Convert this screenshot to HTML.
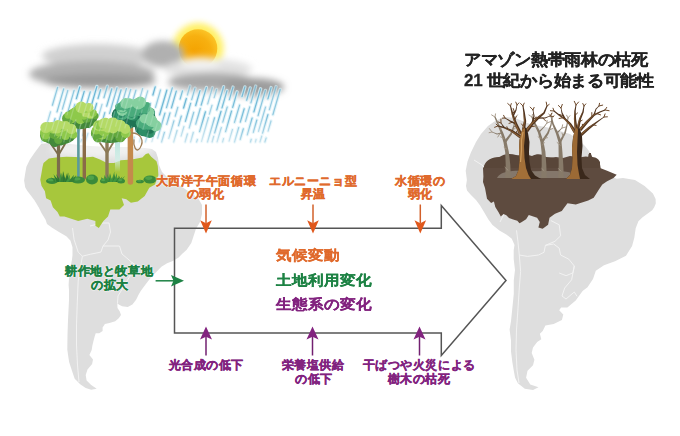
<!DOCTYPE html>
<html><head><meta charset="utf-8">
<style>
html,body{margin:0;padding:0;background:#fff;}
body{width:680px;height:436px;position:relative;overflow:hidden;font-family:"Liberation Sans",sans-serif;}
svg{position:absolute;left:0;top:0;}
.t{position:absolute;font-weight:bold;white-space:nowrap;text-align:center;-webkit-text-stroke:0.35px currentColor;}
.lab{text-shadow:0 0 1.5px #fff,0 0 1.5px #fff,0 0 2.5px #fff;}
.o{color:#e06a2c;}
.g{color:#1d8244;}
.p{color:#82237f;}
.lab{font-size:12.3px;line-height:13px;letter-spacing:0.55px;}
.mid{font-size:15.8px;line-height:17px;text-align:left;-webkit-text-stroke:0.25px currentColor;transform:scaleY(0.9);transform-origin:0 0;}
.title{font-size:17px;letter-spacing:-0.3px;transform:scaleY(0.93);transform-origin:0 0;line-height:18px;color:#232323;text-align:left;-webkit-text-stroke:0.3px currentColor;}
</style></head><body>
<svg width="680" height="436" viewBox="0 0 680 436">
<defs>
<filter id="b5" x="-50%" y="-50%" width="200%" height="200%"><feGaussianBlur stdDeviation="5"/></filter>
<filter id="b35" x="-50%" y="-50%" width="200%" height="200%"><feGaussianBlur stdDeviation="3.5"/></filter>
<filter id="b3" x="-50%" y="-50%" width="200%" height="200%"><feGaussianBlur stdDeviation="3"/></filter>
<filter id="b2" x="-50%" y="-50%" width="200%" height="200%"><feGaussianBlur stdDeviation="2"/></filter>
<filter id="b1" x="-50%" y="-50%" width="200%" height="200%"><feGaussianBlur stdDeviation="0.5"/></filter>
<radialGradient id="sun" cx="0.42" cy="0.6" r="0.65"><stop offset="0" stop-color="#f4a200"/><stop offset="0.65" stop-color="#f7b010"/><stop offset="1" stop-color="#fcc62a"/></radialGradient>
<linearGradient id="cl" x1="0" y1="0" x2="0" y2="1"><stop offset="0" stop-color="#ececec"/><stop offset="0.45" stop-color="#cdcdcd"/><stop offset="1" stop-color="#959595"/></linearGradient>
<linearGradient id="cr" x1="0" y1="0" x2="0" y2="1"><stop offset="0" stop-color="#f4f4f4"/><stop offset="0.4" stop-color="#d8d8d8"/><stop offset="1" stop-color="#9a9a9a"/></linearGradient>
<linearGradient id="lg" x1="0" y1="0" x2="0" y2="1"><stop offset="0" stop-color="#a8d65a"/><stop offset="0.55" stop-color="#7fbf45"/><stop offset="1" stop-color="#4e9a38"/></linearGradient>
<linearGradient id="tg" x1="0" y1="0" x2="0" y2="1"><stop offset="0" stop-color="#6cc08c"/><stop offset="0.5" stop-color="#3da274"/><stop offset="1" stop-color="#237f5c"/></linearGradient>
<linearGradient id="trA" x1="0" y1="0" x2="1" y2="0"><stop offset="0" stop-color="#c48a44"/><stop offset="0.5" stop-color="#a06a32"/><stop offset="0.75" stop-color="#3e2a1a"/><stop offset="1" stop-color="#2e2016"/></linearGradient>
<linearGradient id="rmg" x1="0" y1="0" x2="0" y2="1"><stop offset="0" stop-color="#fff"/><stop offset="0.55" stop-color="#fff"/><stop offset="1" stop-color="#777"/></linearGradient>
<mask id="rm" maskUnits="userSpaceOnUse" x="0" y="80" width="300" height="70"><rect x="0" y="84" width="300" height="60" fill="url(#rmg)"/></mask>
<linearGradient id="tcol" gradientUnits="userSpaceOnUse" x1="0" y1="140" x2="0" y2="172"><stop offset="0" stop-color="#b8e4dc"/><stop offset="0.6" stop-color="#cfeee6" stop-opacity="0.8"/><stop offset="1" stop-color="#e0f4ee" stop-opacity="0"/></linearGradient>
</defs>
<!-- maps -->
<path d="M41.3,143.8 L50.0,143.0 L70.0,144.0 L90.0,146.0 L110.0,147.0 L130.0,147.0 L145.0,148.0 L152.0,149.0 L156.0,152.0 L158.0,158.0 L159.0,165.0 L162.0,172.0 L170.0,180.0 L182.0,187.0 L191.0,193.0 L198.0,198.0 L202.0,205.0 L202.0,214.0 L200.0,222.0 L195.9,229.0 L193.6,236.0 L191.3,243.0 L186.7,249.7 L182.0,254.0 L178.6,257.6 L172.8,261.0 L167.1,263.3 L161.4,266.8 L156.8,271.4 L152.2,276.0 L147.6,281.7 L144.2,286.3 L140.7,290.9 L138.4,295.0 L137.0,298.0 L135.9,300.0 L132.4,304.6 L127.8,306.9 L122.1,306.3 L118.7,304.6 L117.3,303.0 L117.5,308.0 L119.8,311.5 L121.0,314.9 L118.7,318.3 L115.2,321.2 L109.5,322.9 L104.9,324.1 L102.6,327.5 L102.6,331.0 L99.2,333.3 L95.7,333.3 L94.6,336.7 L93.4,341.3 L92.3,345.9 L91.7,350.0 L89.4,354.9 L93.0,359.4 L92.1,364.0 L87.5,369.5 L85.7,375.0 L86.6,380.6 L91.2,385.1 L96.7,388.8 L91.2,389.7 L85.7,387.9 L80.2,384.2 L76.5,380.6 L74.7,378.7 L72.8,373.2 L71.0,367.7 L69.2,362.2 L68.3,356.7 L67.3,349.4 L67.5,334.7 L68.0,320.0 L69.0,300.0 L69.0,290.0 L68.6,285.0 L69.3,273.2 L70.7,266.3 L72.0,259.4 L72.5,255.0 L72.5,247.3 L70.4,240.4 L66.3,236.3 L59.4,232.2 L52.5,228.0 L47.0,223.9 L45.6,219.8 L41.5,212.9 L38.8,207.4 L34.6,200.5 L30.5,195.0 L27.0,190.5 L25.2,187.3 L24.1,180.5 L25.2,173.6 L26.4,166.7 L29.8,159.8 L34.4,152.9 Z" fill="#dedede"/>
<path d="M503.6,116.8 L515.0,118.0 L530.0,124.0 L550.0,128.0 L570.0,134.0 L580.0,141.0 L585.0,146.0 L589.0,151.0 L593.0,158.0 L600.0,168.0 L610.0,176.0 L616.7,178.7 L623.0,178.0 L635.0,180.0 L644.6,186.0 L652.9,193.6 L655.6,199.1 L655.8,203.4 L654.2,207.3 L652.2,210.3 L642.6,217.2 L638.4,221.3 L635.7,228.2 L634.3,237.8 L632.1,246.0 L626.0,255.7 L615.0,261.2 L604.0,265.3 L595.8,270.8 L593.0,279.0 L587.5,287.3 L582.6,291.0 L575.7,300.6 L567.4,307.5 L561.1,307.5 L559.2,310.3 L563.3,314.4 L561.9,319.9 L553.7,324.0 L545.4,325.4 L542.7,330.9 L539.9,333.7 L541.3,339.2 L537.2,341.9 L533.0,347.4 L531.7,352.9 L534.4,359.8 L533.0,365.3 L527.5,370.8 L526.1,377.7 L530.3,384.6 L538.5,387.3 L533.0,390.1 L524.8,388.7 L517.9,383.2 L515.1,377.7 L513.8,370.8 L512.4,362.6 L511.0,351.6 L511.0,340.6 L509.6,329.5 L511.0,321.3 L512.4,307.5 L513.8,293.8 L513.8,280.0 L515.0,270.0 L513.7,259.0 L513.7,250.0 L514.5,245.0 L511.8,238.7 L506.3,234.5 L499.4,230.4 L492.5,224.9 L488.4,219.4 L484.3,212.5 L480.1,205.6 L476.0,200.1 L470.5,194.6 L467.0,190.5 L466.0,186.0 L466.9,179.9 L465.7,170.7 L467.5,161.5 L471.0,152.3 L476.0,142.0 L481.0,134.0 L488.0,126.0 L494.4,121.5 Z" fill="#dedede"/>
<g fill="none" stroke="#f4f4f4" stroke-width="0.9" stroke-linejoin="round">
<path d="M72.5,228 L74.1,239.7 L78.2,252.1 L82.4,256.2 L80.3,268.6 L78.2,281 L77.2,305 L76.5,325 L76.5,345 L77.5,365 L79,382"/>
<path d="M82.4,256.2 L90.6,254.2 L100.9,252.1 L103,246 L119.5,246 L122,254 L131.9,262.4 L140,268"/>
<path d="M103,246 L108,240 L110.5,232 L109,223"/>
<path d="M90,226 L102,223 L109,223"/>
<path d="M131.9,262.4 L130,276 L124,286 L118,296 L117.5,303"/>
<path d="M516.5,230.3 L517.9,241.3 L519.3,255 L520.6,271.6 L519.3,288 L517.9,310 L516.5,330 L516,350 L517,370 L519,383"/>
<path d="M519.3,255 L527.5,256.4 L538.5,255 L544,252.3 L545.4,245.4 L553.7,244 L559.2,248.2 L560.6,255 L568.8,259.2 L574.3,266 L572.9,272.9 L566.1,275.7 L559.2,273"/>
<path d="M545.4,245.4 L555,241.3 L560.6,235.8 L559.2,224.8 L550.9,220.6"/>
<path d="M574.3,266 L571.6,279.8 L564.7,288 L562,296 L566,299 L574.3,292 L577,296.3"/>
<path d="M500,222 L505,212 L504,200 L498,190 L492,182"/>
<path d="M474,160 L482,165 L488,172"/>
</g>
<!-- sun -->
<circle cx="198" cy="48.5" r="25.5" fill="#ffee55" filter="url(#b3)" opacity="0.9"/>
<circle cx="198" cy="48.5" r="19.3" fill="url(#sun)"/>
<!-- clouds -->
<g filter="url(#b35)">
<ellipse cx="98" cy="56" rx="56" ry="12" fill="#d0d0d0"/>
<ellipse cx="92" cy="74" rx="63" ry="13" fill="#b0b0b0"/>
<ellipse cx="100" cy="81" rx="56" ry="7" fill="#999999"/>
<ellipse cx="163" cy="54" rx="21" ry="13" fill="#b0b0b0"/>
<ellipse cx="208" cy="69" rx="44" ry="10" fill="#e2e2e2"/>
<ellipse cx="212" cy="82" rx="44" ry="9" fill="#a8a8a8"/>
<ellipse cx="252" cy="87" rx="32" ry="9" fill="#9c9c9c"/>
<ellipse cx="200" cy="63" rx="20" ry="6" fill="#f4f4f4" opacity="0.85"/>
</g>
<!-- rain -->
<g mask="url(#rm)">
<g stroke="#d4eef6" stroke-width="3.4" stroke-linecap="round">
<line x1="57.6" y1="87.4" x2="52.4" y2="105.2" stroke-opacity="0.62"/>
<line x1="50.5" y1="111.8" x2="44.9" y2="131.1" stroke-opacity="0.48"/>
<line x1="44.0" y1="134.2" x2="41.8" y2="142.0" stroke-opacity="0.57"/>
<line x1="63.7" y1="88.8" x2="57.0" y2="111.9" stroke-opacity="0.66"/>
<line x1="55.0" y1="118.7" x2="51.9" y2="129.4" stroke-opacity="0.74"/>
<line x1="49.5" y1="137.6" x2="48.3" y2="142.0" stroke-opacity="0.78"/>
<line x1="67.8" y1="90.5" x2="62.4" y2="109.2" stroke-opacity="0.59"/>
<line x1="61.5" y1="112.4" x2="54.6" y2="136.0" stroke-opacity="0.66"/>
<line x1="74.1" y1="90.3" x2="67.0" y2="114.9" stroke-opacity="0.63"/>
<line x1="64.7" y1="122.7" x2="60.1" y2="138.7" stroke-opacity="0.87"/>
<line x1="79.8" y1="86.8" x2="76.4" y2="98.7" stroke-opacity="0.88"/>
<line x1="74.8" y1="104.3" x2="69.2" y2="123.6" stroke-opacity="0.59"/>
<line x1="67.4" y1="129.7" x2="63.8" y2="142.0" stroke-opacity="0.61"/>
<line x1="84.2" y1="91.4" x2="78.3" y2="111.7" stroke-opacity="0.87"/>
<line x1="75.9" y1="119.8" x2="69.5" y2="142.0" stroke-opacity="0.75"/>
<line x1="90.3" y1="91.8" x2="83.2" y2="116.1" stroke-opacity="0.71"/>
<line x1="81.1" y1="123.4" x2="77.7" y2="135.2" stroke-opacity="0.82"/>
<line x1="96.9" y1="86.4" x2="90.1" y2="109.8" stroke-opacity="0.90"/>
<line x1="89.1" y1="113.3" x2="82.6" y2="135.7" stroke-opacity="0.63"/>
<line x1="81.5" y1="139.6" x2="80.8" y2="142.0" stroke-opacity="0.80"/>
<line x1="100.6" y1="89.7" x2="98.0" y2="98.5" stroke-opacity="0.77"/>
<line x1="96.6" y1="103.5" x2="89.6" y2="127.3" stroke-opacity="0.89"/>
<line x1="87.9" y1="133.4" x2="85.4" y2="142.0" stroke-opacity="0.59"/>
<line x1="107.3" y1="86.2" x2="103.9" y2="97.7" stroke-opacity="0.63"/>
<line x1="102.0" y1="104.4" x2="98.8" y2="115.2" stroke-opacity="0.47"/>
<line x1="96.5" y1="123.4" x2="92.5" y2="137.1" stroke-opacity="0.88"/>
<line x1="111.8" y1="88.8" x2="106.7" y2="106.1" stroke-opacity="0.74"/>
<line x1="104.8" y1="112.7" x2="99.6" y2="130.8" stroke-opacity="0.73"/>
<line x1="97.1" y1="139.4" x2="96.3" y2="142.0" stroke-opacity="0.64"/>
<line x1="117.0" y1="87.8" x2="109.6" y2="113.4" stroke-opacity="0.68"/>
<line x1="107.8" y1="119.7" x2="105.4" y2="127.9" stroke-opacity="0.64"/>
<line x1="103.5" y1="134.4" x2="101.3" y2="142.0" stroke-opacity="0.73"/>
<line x1="121.1" y1="89.8" x2="116.3" y2="106.2" stroke-opacity="0.76"/>
<line x1="114.8" y1="111.3" x2="108.8" y2="132.0" stroke-opacity="0.78"/>
<line x1="107.9" y1="135.1" x2="105.9" y2="142.0" stroke-opacity="0.75"/>
<line x1="126.4" y1="88.7" x2="121.0" y2="107.4" stroke-opacity="0.59"/>
<line x1="119.5" y1="112.6" x2="115.5" y2="126.2" stroke-opacity="0.62"/>
<line x1="113.6" y1="132.8" x2="110.9" y2="142.0" stroke-opacity="0.62"/>
<line x1="130.7" y1="89.4" x2="124.6" y2="110.6" stroke-opacity="0.59"/>
<line x1="123.3" y1="115.0" x2="116.8" y2="137.5" stroke-opacity="0.56"/>
<line x1="135.9" y1="90.2" x2="133.0" y2="100.0" stroke-opacity="0.59"/>
<line x1="131.6" y1="105.0" x2="124.9" y2="128.0" stroke-opacity="0.65"/>
<line x1="122.6" y1="136.2" x2="120.9" y2="142.0" stroke-opacity="0.60"/>
<line x1="142.6" y1="88.7" x2="139.1" y2="100.8" stroke-opacity="0.50"/>
<line x1="137.3" y1="106.9" x2="134.0" y2="118.4" stroke-opacity="0.81"/>
<line x1="131.7" y1="126.4" x2="128.4" y2="137.7" stroke-opacity="0.58"/>
<line x1="147.7" y1="90.8" x2="143.6" y2="105.1" stroke-opacity="0.51"/>
<line x1="142.2" y1="109.8" x2="135.8" y2="132.1" stroke-opacity="0.57"/>
<line x1="134.3" y1="137.2" x2="132.9" y2="142.0" stroke-opacity="0.64"/>
<line x1="155.2" y1="86.9" x2="152.9" y2="95.0" stroke-opacity="0.87"/>
<line x1="150.5" y1="103.3" x2="143.0" y2="129.1" stroke-opacity="0.65"/>
<line x1="140.5" y1="137.8" x2="139.3" y2="142.0" stroke-opacity="0.55"/>
<line x1="160.5" y1="90.0" x2="155.5" y2="107.3" stroke-opacity="0.58"/>
<line x1="154.0" y1="112.4" x2="150.5" y2="124.5" stroke-opacity="0.48"/>
<line x1="148.6" y1="131.0" x2="145.4" y2="142.0" stroke-opacity="0.81"/>
<line x1="166.8" y1="90.2" x2="159.6" y2="114.8" stroke-opacity="0.85"/>
<line x1="157.2" y1="123.2" x2="151.9" y2="141.6" stroke-opacity="0.46"/>
<line x1="172.3" y1="87.8" x2="166.5" y2="107.7" stroke-opacity="0.69"/>
<line x1="164.9" y1="113.2" x2="157.7" y2="138.1" stroke-opacity="0.73"/>
<line x1="176.3" y1="91.2" x2="171.5" y2="107.8" stroke-opacity="0.80"/>
<line x1="170.0" y1="112.9" x2="166.7" y2="124.4" stroke-opacity="0.69"/>
<line x1="164.4" y1="132.3" x2="161.6" y2="142.0" stroke-opacity="0.81"/>
<line x1="182.5" y1="90.9" x2="180.1" y2="99.1" stroke-opacity="0.73"/>
<line x1="177.8" y1="107.3" x2="175.2" y2="116.2" stroke-opacity="0.57"/>
<line x1="173.9" y1="120.8" x2="168.8" y2="138.3" stroke-opacity="0.64"/>
<line x1="190.0" y1="86.0" x2="187.4" y2="95.0" stroke-opacity="0.51"/>
<line x1="186.3" y1="98.7" x2="183.6" y2="108.0" stroke-opacity="0.89"/>
<line x1="181.3" y1="116.1" x2="178.5" y2="125.7" stroke-opacity="0.68"/>
<line x1="177.1" y1="130.5" x2="173.7" y2="142.0" stroke-opacity="0.61"/>
<line x1="195.0" y1="88.2" x2="191.7" y2="99.6" stroke-opacity="0.60"/>
<line x1="190.6" y1="103.3" x2="185.4" y2="121.3" stroke-opacity="0.77"/>
<line x1="183.9" y1="126.6" x2="181.1" y2="136.1" stroke-opacity="0.53"/>
<line x1="200.0" y1="90.7" x2="195.7" y2="105.5" stroke-opacity="0.81"/>
<line x1="193.7" y1="112.3" x2="189.2" y2="128.0" stroke-opacity="0.62"/>
<line x1="187.4" y1="134.0" x2="185.1" y2="142.0" stroke-opacity="0.64"/>
<line x1="206.4" y1="87.5" x2="201.2" y2="105.1" stroke-opacity="0.76"/>
<line x1="200.3" y1="108.5" x2="195.7" y2="124.2" stroke-opacity="0.64"/>
<line x1="193.3" y1="132.5" x2="190.6" y2="142.0" stroke-opacity="0.62"/>
<line x1="212.4" y1="87.6" x2="207.7" y2="103.9" stroke-opacity="0.51"/>
<line x1="205.4" y1="111.8" x2="199.6" y2="131.7" stroke-opacity="0.85"/>
<line x1="197.4" y1="139.5" x2="196.6" y2="142.0" stroke-opacity="0.78"/>
<line x1="216.6" y1="89.5" x2="214.2" y2="97.6" stroke-opacity="0.51"/>
<line x1="212.0" y1="105.3" x2="209.4" y2="114.1" stroke-opacity="0.49"/>
<line x1="208.4" y1="117.7" x2="201.5" y2="141.5" stroke-opacity="0.53"/>
<line x1="223.6" y1="86.7" x2="216.8" y2="109.9" stroke-opacity="0.75"/>
<line x1="214.5" y1="117.9" x2="207.5" y2="142.0" stroke-opacity="0.71"/>
<line x1="227.0" y1="90.6" x2="222.0" y2="107.8" stroke-opacity="0.77"/>
<line x1="221.0" y1="111.4" x2="214.7" y2="132.9" stroke-opacity="0.87"/>
<line x1="213.7" y1="136.3" x2="212.1" y2="142.0" stroke-opacity="0.70"/>
<line x1="233.0" y1="87.1" x2="229.4" y2="99.6" stroke-opacity="0.73"/>
<line x1="227.2" y1="107.1" x2="222.8" y2="122.2" stroke-opacity="0.62"/>
<line x1="221.3" y1="127.6" x2="217.1" y2="141.9" stroke-opacity="0.64"/>
<line x1="237.1" y1="91.8" x2="232.7" y2="107.3" stroke-opacity="0.79"/>
<line x1="231.5" y1="111.2" x2="225.6" y2="131.7" stroke-opacity="0.79"/>
<line x1="223.5" y1="138.7" x2="222.6" y2="142.0" stroke-opacity="0.67"/>
<line x1="244.9" y1="86.9" x2="242.0" y2="96.6" stroke-opacity="0.79"/>
<line x1="239.6" y1="105.1" x2="234.5" y2="122.4" stroke-opacity="0.65"/>
<line x1="232.4" y1="129.7" x2="229.1" y2="141.1" stroke-opacity="0.57"/>
<line x1="250.2" y1="87.9" x2="246.7" y2="100.1" stroke-opacity="0.76"/>
<line x1="244.2" y1="108.8" x2="240.3" y2="122.1" stroke-opacity="0.77"/>
<line x1="238.7" y1="127.6" x2="234.5" y2="142.0" stroke-opacity="0.71"/>
<line x1="255.7" y1="86.1" x2="250.9" y2="102.8" stroke-opacity="0.62"/>
<line x1="249.7" y1="106.8" x2="245.5" y2="121.3" stroke-opacity="0.59"/>
<line x1="243.3" y1="128.9" x2="240.2" y2="139.5" stroke-opacity="0.90"/>
<line x1="260.6" y1="88.8" x2="253.9" y2="111.8" stroke-opacity="0.82"/>
<line x1="252.1" y1="118.2" x2="247.3" y2="134.8" stroke-opacity="0.77"/>
<line x1="265.4" y1="90.4" x2="258.1" y2="115.7" stroke-opacity="0.66"/>
<line x1="256.8" y1="120.1" x2="253.3" y2="132.3" stroke-opacity="0.77"/>
<line x1="251.2" y1="139.3" x2="250.5" y2="142.0" stroke-opacity="0.83"/>
<line x1="271.1" y1="87.6" x2="267.9" y2="98.9" stroke-opacity="0.77"/>
<line x1="265.5" y1="107.1" x2="258.5" y2="131.3" stroke-opacity="0.56"/>
<line x1="256.1" y1="139.5" x2="255.4" y2="142.0" stroke-opacity="0.64"/>
<line x1="276.1" y1="86.6" x2="269.4" y2="109.6" stroke-opacity="0.58"/>
<line x1="267.9" y1="114.7" x2="262.6" y2="133.2" stroke-opacity="0.75"/>
<line x1="261.7" y1="136.2" x2="260.0" y2="142.0" stroke-opacity="0.65"/>
<line x1="280.2" y1="89.5" x2="272.9" y2="114.7" stroke-opacity="0.63"/>
<line x1="271.0" y1="121.0" x2="268.1" y2="131.1" stroke-opacity="0.57"/>
<line x1="266.1" y1="138.1" x2="264.9" y2="142.0" stroke-opacity="0.85"/>
</g>
<g stroke="#5eaed0" stroke-width="1.25" stroke-linecap="round">
<line x1="57.6" y1="87.4" x2="52.4" y2="105.2" stroke-opacity="0.62"/>
<line x1="50.5" y1="111.8" x2="44.9" y2="131.1" stroke-opacity="0.48"/>
<line x1="44.0" y1="134.2" x2="41.8" y2="142.0" stroke-opacity="0.57"/>
<line x1="63.7" y1="88.8" x2="57.0" y2="111.9" stroke-opacity="0.66"/>
<line x1="55.0" y1="118.7" x2="51.9" y2="129.4" stroke-opacity="0.74"/>
<line x1="49.5" y1="137.6" x2="48.3" y2="142.0" stroke-opacity="0.78"/>
<line x1="67.8" y1="90.5" x2="62.4" y2="109.2" stroke-opacity="0.59"/>
<line x1="61.5" y1="112.4" x2="54.6" y2="136.0" stroke-opacity="0.66"/>
<line x1="74.1" y1="90.3" x2="67.0" y2="114.9" stroke-opacity="0.63"/>
<line x1="64.7" y1="122.7" x2="60.1" y2="138.7" stroke-opacity="0.87"/>
<line x1="79.8" y1="86.8" x2="76.4" y2="98.7" stroke-opacity="0.88"/>
<line x1="74.8" y1="104.3" x2="69.2" y2="123.6" stroke-opacity="0.59"/>
<line x1="67.4" y1="129.7" x2="63.8" y2="142.0" stroke-opacity="0.61"/>
<line x1="84.2" y1="91.4" x2="78.3" y2="111.7" stroke-opacity="0.87"/>
<line x1="75.9" y1="119.8" x2="69.5" y2="142.0" stroke-opacity="0.75"/>
<line x1="90.3" y1="91.8" x2="83.2" y2="116.1" stroke-opacity="0.71"/>
<line x1="81.1" y1="123.4" x2="77.7" y2="135.2" stroke-opacity="0.82"/>
<line x1="96.9" y1="86.4" x2="90.1" y2="109.8" stroke-opacity="0.90"/>
<line x1="89.1" y1="113.3" x2="82.6" y2="135.7" stroke-opacity="0.63"/>
<line x1="81.5" y1="139.6" x2="80.8" y2="142.0" stroke-opacity="0.80"/>
<line x1="100.6" y1="89.7" x2="98.0" y2="98.5" stroke-opacity="0.77"/>
<line x1="96.6" y1="103.5" x2="89.6" y2="127.3" stroke-opacity="0.89"/>
<line x1="87.9" y1="133.4" x2="85.4" y2="142.0" stroke-opacity="0.59"/>
<line x1="107.3" y1="86.2" x2="103.9" y2="97.7" stroke-opacity="0.63"/>
<line x1="102.0" y1="104.4" x2="98.8" y2="115.2" stroke-opacity="0.47"/>
<line x1="96.5" y1="123.4" x2="92.5" y2="137.1" stroke-opacity="0.88"/>
<line x1="111.8" y1="88.8" x2="106.7" y2="106.1" stroke-opacity="0.74"/>
<line x1="104.8" y1="112.7" x2="99.6" y2="130.8" stroke-opacity="0.73"/>
<line x1="97.1" y1="139.4" x2="96.3" y2="142.0" stroke-opacity="0.64"/>
<line x1="117.0" y1="87.8" x2="109.6" y2="113.4" stroke-opacity="0.68"/>
<line x1="107.8" y1="119.7" x2="105.4" y2="127.9" stroke-opacity="0.64"/>
<line x1="103.5" y1="134.4" x2="101.3" y2="142.0" stroke-opacity="0.73"/>
<line x1="121.1" y1="89.8" x2="116.3" y2="106.2" stroke-opacity="0.76"/>
<line x1="114.8" y1="111.3" x2="108.8" y2="132.0" stroke-opacity="0.78"/>
<line x1="107.9" y1="135.1" x2="105.9" y2="142.0" stroke-opacity="0.75"/>
<line x1="126.4" y1="88.7" x2="121.0" y2="107.4" stroke-opacity="0.59"/>
<line x1="119.5" y1="112.6" x2="115.5" y2="126.2" stroke-opacity="0.62"/>
<line x1="113.6" y1="132.8" x2="110.9" y2="142.0" stroke-opacity="0.62"/>
<line x1="130.7" y1="89.4" x2="124.6" y2="110.6" stroke-opacity="0.59"/>
<line x1="123.3" y1="115.0" x2="116.8" y2="137.5" stroke-opacity="0.56"/>
<line x1="135.9" y1="90.2" x2="133.0" y2="100.0" stroke-opacity="0.59"/>
<line x1="131.6" y1="105.0" x2="124.9" y2="128.0" stroke-opacity="0.65"/>
<line x1="122.6" y1="136.2" x2="120.9" y2="142.0" stroke-opacity="0.60"/>
<line x1="142.6" y1="88.7" x2="139.1" y2="100.8" stroke-opacity="0.50"/>
<line x1="137.3" y1="106.9" x2="134.0" y2="118.4" stroke-opacity="0.81"/>
<line x1="131.7" y1="126.4" x2="128.4" y2="137.7" stroke-opacity="0.58"/>
<line x1="147.7" y1="90.8" x2="143.6" y2="105.1" stroke-opacity="0.51"/>
<line x1="142.2" y1="109.8" x2="135.8" y2="132.1" stroke-opacity="0.57"/>
<line x1="134.3" y1="137.2" x2="132.9" y2="142.0" stroke-opacity="0.64"/>
<line x1="155.2" y1="86.9" x2="152.9" y2="95.0" stroke-opacity="0.87"/>
<line x1="150.5" y1="103.3" x2="143.0" y2="129.1" stroke-opacity="0.65"/>
<line x1="140.5" y1="137.8" x2="139.3" y2="142.0" stroke-opacity="0.55"/>
<line x1="160.5" y1="90.0" x2="155.5" y2="107.3" stroke-opacity="0.58"/>
<line x1="154.0" y1="112.4" x2="150.5" y2="124.5" stroke-opacity="0.48"/>
<line x1="148.6" y1="131.0" x2="145.4" y2="142.0" stroke-opacity="0.81"/>
<line x1="166.8" y1="90.2" x2="159.6" y2="114.8" stroke-opacity="0.85"/>
<line x1="157.2" y1="123.2" x2="151.9" y2="141.6" stroke-opacity="0.46"/>
<line x1="172.3" y1="87.8" x2="166.5" y2="107.7" stroke-opacity="0.69"/>
<line x1="164.9" y1="113.2" x2="157.7" y2="138.1" stroke-opacity="0.73"/>
<line x1="176.3" y1="91.2" x2="171.5" y2="107.8" stroke-opacity="0.80"/>
<line x1="170.0" y1="112.9" x2="166.7" y2="124.4" stroke-opacity="0.69"/>
<line x1="164.4" y1="132.3" x2="161.6" y2="142.0" stroke-opacity="0.81"/>
<line x1="182.5" y1="90.9" x2="180.1" y2="99.1" stroke-opacity="0.73"/>
<line x1="177.8" y1="107.3" x2="175.2" y2="116.2" stroke-opacity="0.57"/>
<line x1="173.9" y1="120.8" x2="168.8" y2="138.3" stroke-opacity="0.64"/>
<line x1="190.0" y1="86.0" x2="187.4" y2="95.0" stroke-opacity="0.51"/>
<line x1="186.3" y1="98.7" x2="183.6" y2="108.0" stroke-opacity="0.89"/>
<line x1="181.3" y1="116.1" x2="178.5" y2="125.7" stroke-opacity="0.68"/>
<line x1="177.1" y1="130.5" x2="173.7" y2="142.0" stroke-opacity="0.61"/>
<line x1="195.0" y1="88.2" x2="191.7" y2="99.6" stroke-opacity="0.60"/>
<line x1="190.6" y1="103.3" x2="185.4" y2="121.3" stroke-opacity="0.77"/>
<line x1="183.9" y1="126.6" x2="181.1" y2="136.1" stroke-opacity="0.53"/>
<line x1="200.0" y1="90.7" x2="195.7" y2="105.5" stroke-opacity="0.81"/>
<line x1="193.7" y1="112.3" x2="189.2" y2="128.0" stroke-opacity="0.62"/>
<line x1="187.4" y1="134.0" x2="185.1" y2="142.0" stroke-opacity="0.64"/>
<line x1="206.4" y1="87.5" x2="201.2" y2="105.1" stroke-opacity="0.76"/>
<line x1="200.3" y1="108.5" x2="195.7" y2="124.2" stroke-opacity="0.64"/>
<line x1="193.3" y1="132.5" x2="190.6" y2="142.0" stroke-opacity="0.62"/>
<line x1="212.4" y1="87.6" x2="207.7" y2="103.9" stroke-opacity="0.51"/>
<line x1="205.4" y1="111.8" x2="199.6" y2="131.7" stroke-opacity="0.85"/>
<line x1="197.4" y1="139.5" x2="196.6" y2="142.0" stroke-opacity="0.78"/>
<line x1="216.6" y1="89.5" x2="214.2" y2="97.6" stroke-opacity="0.51"/>
<line x1="212.0" y1="105.3" x2="209.4" y2="114.1" stroke-opacity="0.49"/>
<line x1="208.4" y1="117.7" x2="201.5" y2="141.5" stroke-opacity="0.53"/>
<line x1="223.6" y1="86.7" x2="216.8" y2="109.9" stroke-opacity="0.75"/>
<line x1="214.5" y1="117.9" x2="207.5" y2="142.0" stroke-opacity="0.71"/>
<line x1="227.0" y1="90.6" x2="222.0" y2="107.8" stroke-opacity="0.77"/>
<line x1="221.0" y1="111.4" x2="214.7" y2="132.9" stroke-opacity="0.87"/>
<line x1="213.7" y1="136.3" x2="212.1" y2="142.0" stroke-opacity="0.70"/>
<line x1="233.0" y1="87.1" x2="229.4" y2="99.6" stroke-opacity="0.73"/>
<line x1="227.2" y1="107.1" x2="222.8" y2="122.2" stroke-opacity="0.62"/>
<line x1="221.3" y1="127.6" x2="217.1" y2="141.9" stroke-opacity="0.64"/>
<line x1="237.1" y1="91.8" x2="232.7" y2="107.3" stroke-opacity="0.79"/>
<line x1="231.5" y1="111.2" x2="225.6" y2="131.7" stroke-opacity="0.79"/>
<line x1="223.5" y1="138.7" x2="222.6" y2="142.0" stroke-opacity="0.67"/>
<line x1="244.9" y1="86.9" x2="242.0" y2="96.6" stroke-opacity="0.79"/>
<line x1="239.6" y1="105.1" x2="234.5" y2="122.4" stroke-opacity="0.65"/>
<line x1="232.4" y1="129.7" x2="229.1" y2="141.1" stroke-opacity="0.57"/>
<line x1="250.2" y1="87.9" x2="246.7" y2="100.1" stroke-opacity="0.76"/>
<line x1="244.2" y1="108.8" x2="240.3" y2="122.1" stroke-opacity="0.77"/>
<line x1="238.7" y1="127.6" x2="234.5" y2="142.0" stroke-opacity="0.71"/>
<line x1="255.7" y1="86.1" x2="250.9" y2="102.8" stroke-opacity="0.62"/>
<line x1="249.7" y1="106.8" x2="245.5" y2="121.3" stroke-opacity="0.59"/>
<line x1="243.3" y1="128.9" x2="240.2" y2="139.5" stroke-opacity="0.90"/>
<line x1="260.6" y1="88.8" x2="253.9" y2="111.8" stroke-opacity="0.82"/>
<line x1="252.1" y1="118.2" x2="247.3" y2="134.8" stroke-opacity="0.77"/>
<line x1="265.4" y1="90.4" x2="258.1" y2="115.7" stroke-opacity="0.66"/>
<line x1="256.8" y1="120.1" x2="253.3" y2="132.3" stroke-opacity="0.77"/>
<line x1="251.2" y1="139.3" x2="250.5" y2="142.0" stroke-opacity="0.83"/>
<line x1="271.1" y1="87.6" x2="267.9" y2="98.9" stroke-opacity="0.77"/>
<line x1="265.5" y1="107.1" x2="258.5" y2="131.3" stroke-opacity="0.56"/>
<line x1="256.1" y1="139.5" x2="255.4" y2="142.0" stroke-opacity="0.64"/>
<line x1="276.1" y1="86.6" x2="269.4" y2="109.6" stroke-opacity="0.58"/>
<line x1="267.9" y1="114.7" x2="262.6" y2="133.2" stroke-opacity="0.75"/>
<line x1="261.7" y1="136.2" x2="260.0" y2="142.0" stroke-opacity="0.65"/>
<line x1="280.2" y1="89.5" x2="272.9" y2="114.7" stroke-opacity="0.63"/>
<line x1="271.0" y1="121.0" x2="268.1" y2="131.1" stroke-opacity="0.57"/>
<line x1="266.1" y1="138.1" x2="264.9" y2="142.0" stroke-opacity="0.85"/>
</g>
</g>
<ellipse cx="102" cy="149" rx="52" ry="9" fill="#ffffff" opacity="0.55" filter="url(#b3)"/>
<!-- green ground -->
<path d="M43.5,163.0 L48.8,158.5 L56.0,157.5 L66.5,156.8 L75.0,157.0 L84.0,157.6 L93.0,156.8 L100.0,159.4 L107.0,163.0 L114.0,163.0 L121.0,160.3 L131.8,159.4 L142.3,157.6 L145.9,154.0 L148.5,153.2 L151.2,156.8 L156.5,161.2 L157.8,166.0 L158.4,175.2 L155.0,184.4 L149.3,187.8 L144.7,195.9 L137.8,201.6 L130.9,202.8 L126.3,199.3 L121.7,198.2 L124.0,205.0 L119.4,209.6 L110.3,209.6 L108.0,216.5 L103.4,221.1 L98.8,228.0 L95.4,225.7 L95.4,221.1 L87.3,218.8 L78.2,221.1 L71.3,218.8 L64.4,216.5 L59.8,216.5 L57.5,211.9 L52.9,207.3 L50.6,200.5 L46.1,198.2 L44.9,191.3 L41.5,185.7 L40.3,179.8 L41.5,172.9 L42.5,167.0 Z" fill="#a7c73c"/>
<!-- forest trunks -->
<g stroke-linecap="round" fill="none">
<path d="M58.5,178 L58.5,142" stroke="#7c6c4c" stroke-width="3.2"/>
<path d="M58.5,155 L51,144 M58.5,155 L65,144" stroke="#7c6c4c" stroke-width="1.8"/>
<path d="M78.4,176 L78.4,120" stroke="#5c9a9c" stroke-width="2.6"/>
<path d="M84.3,178 L84.3,118" stroke="#8a6a48" stroke-width="3.4"/>
<path d="M107,178 L107,138" stroke="#8c7a58" stroke-width="3.4"/>
<path d="M107,153 L100,143 M107,153 L113,143" stroke="#8c7a58" stroke-width="1.8"/>
<path d="M117.5,172 L117.5,140" stroke="url(#tcol)" stroke-width="5"/>
<path d="M130.4,182 L130.4,128" stroke="#c48a4c" stroke-width="5.5"/>
<path d="M132,133 C140,133 145,140 140,148 C136,154 133,145 134,140" stroke="#a08058" stroke-width="1.3"/>
</g>
<!-- canopies -->
<ellipse cx="133" cy="115.2" rx="21.2" ry="12.0" fill="#1f7454"/>
<circle cx="126.7" cy="123.9" r="5.2" fill="#2c8d66"/>
<circle cx="128.7" cy="123.7" r="5.4" fill="#1f7454"/>
<circle cx="121.3" cy="118.4" r="3.5" fill="#2c8d66"/>
<circle cx="120.8" cy="118.2" r="3.4" fill="#4aab7c"/>
<circle cx="145.8" cy="117.9" r="4.0" fill="#2c8d66"/>
<circle cx="123.1" cy="117.8" r="3.9" fill="#1f7454"/>
<circle cx="150.5" cy="116.6" r="4.8" fill="#1f7454"/>
<circle cx="133.7" cy="116.3" r="4.5" fill="#2c8d66"/>
<circle cx="145.2" cy="115.3" r="4.0" fill="#2c8d66"/>
<circle cx="117.5" cy="114.9" r="3.8" fill="#2c8d66"/>
<circle cx="131.2" cy="114.4" r="5.6" fill="#4aab7c"/>
<circle cx="122.8" cy="114.4" r="5.4" fill="#4aab7c"/>
<circle cx="120.8" cy="114.4" r="4.4" fill="#4aab7c"/>
<circle cx="121.1" cy="113.3" r="4.8" fill="#2c8d66"/>
<circle cx="131.7" cy="113.2" r="4.7" fill="#2c8d66"/>
<circle cx="150.3" cy="112.6" r="4.7" fill="#2c8d66"/>
<circle cx="148.5" cy="112.3" r="5.7" fill="#86d0a0"/>
<circle cx="139.1" cy="112.0" r="3.9" fill="#4aab7c"/>
<circle cx="124.3" cy="111.7" r="3.4" fill="#4aab7c"/>
<circle cx="131.6" cy="111.6" r="5.4" fill="#4aab7c"/>
<circle cx="136.9" cy="111.2" r="3.5" fill="#4aab7c"/>
<circle cx="143.0" cy="110.7" r="5.4" fill="#2c8d66"/>
<circle cx="122.1" cy="110.5" r="5.4" fill="#86d0a0"/>
<circle cx="136.8" cy="110.0" r="4.4" fill="#4aab7c"/>
<circle cx="144.4" cy="108.4" r="5.5" fill="#4aab7c"/>
<circle cx="126.5" cy="108.2" r="3.4" fill="#4aab7c"/>
<circle cx="122.8" cy="108.1" r="3.4" fill="#4aab7c"/>
<circle cx="137.3" cy="107.9" r="5.6" fill="#4aab7c"/>
<circle cx="122.2" cy="107.6" r="5.7" fill="#4aab7c"/>
<circle cx="143.5" cy="107.6" r="3.4" fill="#4aab7c"/>
<circle cx="122.2" cy="107.3" r="5.2" fill="#86d0a0"/>
<circle cx="118.6" cy="107.1" r="3.5" fill="#4aab7c"/>
<circle cx="123.6" cy="105.7" r="5.1" fill="#4aab7c"/>
<circle cx="146.8" cy="105.6" r="3.6" fill="#4aab7c"/>
<circle cx="138.4" cy="104.0" r="4.3" fill="#86d0a0"/>
<circle cx="138.4" cy="103.6" r="5.8" fill="#86d0a0"/>
<circle cx="125.6" cy="103.4" r="5.3" fill="#86d0a0"/>
<circle cx="129.1" cy="103.0" r="4.8" fill="#86d0a0"/>
<circle cx="134.1" cy="102.7" r="3.7" fill="#86d0a0"/>
<circle cx="140.3" cy="102.3" r="5.8" fill="#86d0a0"/>
<ellipse cx="146" cy="127.7" rx="11.0" ry="8.8" fill="#1f7454"/>
<circle cx="145.9" cy="132.6" r="3.5" fill="#1f7454"/>
<circle cx="149.6" cy="132.1" r="5.8" fill="#2c8d66"/>
<circle cx="145.4" cy="131.8" r="4.6" fill="#2c8d66"/>
<circle cx="142.3" cy="131.6" r="4.0" fill="#2c8d66"/>
<circle cx="149.7" cy="129.8" r="3.9" fill="#1f7454"/>
<circle cx="143.2" cy="127.2" r="5.6" fill="#2c8d66"/>
<circle cx="144.1" cy="126.0" r="3.7" fill="#4aab7c"/>
<circle cx="155.7" cy="125.8" r="5.7" fill="#86d0a0"/>
<circle cx="148.9" cy="124.4" r="5.4" fill="#4aab7c"/>
<circle cx="154.8" cy="123.5" r="3.8" fill="#86d0a0"/>
<circle cx="140.9" cy="123.2" r="5.0" fill="#4aab7c"/>
<circle cx="141.7" cy="121.9" r="3.8" fill="#4aab7c"/>
<circle cx="146.2" cy="121.4" r="4.4" fill="#4aab7c"/>
<circle cx="151.9" cy="121.3" r="5.6" fill="#86d0a0"/>
<circle cx="150.6" cy="120.1" r="5.8" fill="#86d0a0"/>
<circle cx="144.4" cy="118.8" r="4.7" fill="#86d0a0"/>
<ellipse cx="81" cy="118.0" rx="16.1" ry="10.8" fill="#43893a"/>
<circle cx="80.5" cy="125.6" r="3.6" fill="#43893a"/>
<circle cx="88.1" cy="124.7" r="3.2" fill="#43893a"/>
<circle cx="78.3" cy="123.2" r="3.2" fill="#62a83e"/>
<circle cx="75.9" cy="122.1" r="5.4" fill="#43893a"/>
<circle cx="74.3" cy="121.7" r="4.1" fill="#43893a"/>
<circle cx="71.8" cy="120.1" r="3.3" fill="#8ec94b"/>
<circle cx="68.8" cy="119.9" r="4.1" fill="#8ec94b"/>
<circle cx="86.5" cy="119.7" r="3.5" fill="#43893a"/>
<circle cx="80.3" cy="119.3" r="4.9" fill="#8ec94b"/>
<circle cx="67.8" cy="118.5" r="5.8" fill="#62a83e"/>
<circle cx="86.5" cy="118.1" r="4.7" fill="#62a83e"/>
<circle cx="95.3" cy="116.1" r="3.3" fill="#62a83e"/>
<circle cx="89.9" cy="116.0" r="3.3" fill="#62a83e"/>
<circle cx="83.8" cy="115.5" r="4.2" fill="#8ec94b"/>
<circle cx="74.7" cy="115.5" r="5.7" fill="#8ec94b"/>
<circle cx="68.1" cy="115.1" r="3.7" fill="#8ec94b"/>
<circle cx="90.3" cy="114.5" r="4.5" fill="#8ec94b"/>
<circle cx="73.0" cy="114.5" r="4.2" fill="#8ec94b"/>
<circle cx="90.1" cy="113.9" r="4.3" fill="#b4da66"/>
<circle cx="93.2" cy="113.1" r="3.7" fill="#8ec94b"/>
<circle cx="73.4" cy="113.1" r="4.5" fill="#8ec94b"/>
<circle cx="85.7" cy="113.0" r="4.1" fill="#b4da66"/>
<circle cx="74.6" cy="112.7" r="4.9" fill="#8ec94b"/>
<circle cx="77.4" cy="111.2" r="5.3" fill="#8ec94b"/>
<circle cx="85.0" cy="110.3" r="4.6" fill="#b4da66"/>
<circle cx="84.5" cy="108.9" r="5.0" fill="#b4da66"/>
<circle cx="85.6" cy="108.5" r="4.3" fill="#8ec94b"/>
<circle cx="78.8" cy="108.3" r="4.0" fill="#8ec94b"/>
<circle cx="88.8" cy="107.6" r="4.6" fill="#b4da66"/>
<circle cx="81.3" cy="107.4" r="5.8" fill="#b4da66"/>
<ellipse cx="110" cy="132.9" rx="18.9" ry="10.0" fill="#43893a"/>
<circle cx="98.0" cy="137.0" r="5.4" fill="#62a83e"/>
<circle cx="120.4" cy="137.0" r="5.3" fill="#62a83e"/>
<circle cx="109.6" cy="136.0" r="4.7" fill="#62a83e"/>
<circle cx="105.8" cy="135.2" r="3.6" fill="#62a83e"/>
<circle cx="101.9" cy="134.6" r="5.0" fill="#8ec94b"/>
<circle cx="97.7" cy="134.4" r="4.4" fill="#62a83e"/>
<circle cx="95.5" cy="133.8" r="4.6" fill="#62a83e"/>
<circle cx="100.3" cy="133.3" r="4.7" fill="#62a83e"/>
<circle cx="125.8" cy="133.0" r="5.1" fill="#8ec94b"/>
<circle cx="116.4" cy="132.1" r="5.1" fill="#62a83e"/>
<circle cx="97.6" cy="131.6" r="3.8" fill="#62a83e"/>
<circle cx="104.4" cy="130.9" r="5.7" fill="#8ec94b"/>
<circle cx="95.8" cy="130.4" r="4.2" fill="#8ec94b"/>
<circle cx="101.7" cy="130.2" r="4.8" fill="#8ec94b"/>
<circle cx="103.1" cy="129.7" r="5.4" fill="#8ec94b"/>
<circle cx="125.3" cy="128.8" r="5.1" fill="#b4da66"/>
<circle cx="107.6" cy="128.4" r="4.3" fill="#b4da66"/>
<circle cx="113.1" cy="128.3" r="5.1" fill="#b4da66"/>
<circle cx="104.7" cy="127.0" r="3.6" fill="#b4da66"/>
<circle cx="103.3" cy="126.5" r="4.8" fill="#b4da66"/>
<circle cx="119.9" cy="126.3" r="5.4" fill="#b4da66"/>
<circle cx="101.1" cy="125.8" r="3.7" fill="#8ec94b"/>
<circle cx="98.1" cy="125.6" r="5.1" fill="#b4da66"/>
<circle cx="120.2" cy="125.2" r="5.4" fill="#b4da66"/>
<circle cx="99.1" cy="125.2" r="4.6" fill="#8ec94b"/>
<circle cx="121.7" cy="124.9" r="3.8" fill="#b4da66"/>
<circle cx="114.7" cy="124.4" r="4.3" fill="#b4da66"/>
<circle cx="106.5" cy="123.8" r="4.5" fill="#b4da66"/>
<circle cx="103.7" cy="123.5" r="5.3" fill="#b4da66"/>
<circle cx="116.2" cy="123.4" r="3.8" fill="#b4da66"/>
<circle cx="104.7" cy="123.1" r="3.2" fill="#b4da66"/>
<circle cx="105.5" cy="122.7" r="4.9" fill="#b4da66"/>
<circle cx="111.5" cy="122.0" r="4.3" fill="#b4da66"/>
<circle cx="113.6" cy="121.5" r="3.9" fill="#b4da66"/>
<ellipse cx="58" cy="134.9" rx="17.9" ry="10.0" fill="#43893a"/>
<circle cx="54.9" cy="142.6" r="4.3" fill="#43893a"/>
<circle cx="54.3" cy="142.0" r="4.6" fill="#43893a"/>
<circle cx="60.2" cy="141.6" r="3.9" fill="#43893a"/>
<circle cx="61.4" cy="140.3" r="5.0" fill="#43893a"/>
<circle cx="58.3" cy="139.7" r="4.2" fill="#62a83e"/>
<circle cx="46.6" cy="137.0" r="4.7" fill="#43893a"/>
<circle cx="45.4" cy="137.0" r="4.9" fill="#62a83e"/>
<circle cx="65.5" cy="136.1" r="4.0" fill="#8ec94b"/>
<circle cx="56.0" cy="134.9" r="3.4" fill="#8ec94b"/>
<circle cx="45.6" cy="134.7" r="4.8" fill="#8ec94b"/>
<circle cx="73.4" cy="134.7" r="3.9" fill="#8ec94b"/>
<circle cx="53.8" cy="134.2" r="4.7" fill="#62a83e"/>
<circle cx="70.0" cy="133.3" r="3.7" fill="#8ec94b"/>
<circle cx="45.0" cy="132.6" r="5.0" fill="#8ec94b"/>
<circle cx="59.1" cy="132.1" r="4.5" fill="#8ec94b"/>
<circle cx="72.2" cy="131.5" r="4.1" fill="#8ec94b"/>
<circle cx="63.9" cy="131.0" r="5.2" fill="#8ec94b"/>
<circle cx="71.9" cy="130.2" r="3.9" fill="#8ec94b"/>
<circle cx="45.9" cy="129.8" r="3.4" fill="#b4da66"/>
<circle cx="71.3" cy="128.9" r="5.2" fill="#b4da66"/>
<circle cx="44.9" cy="128.7" r="3.3" fill="#b4da66"/>
<circle cx="72.1" cy="128.5" r="3.9" fill="#b4da66"/>
<circle cx="53.5" cy="128.3" r="5.3" fill="#b4da66"/>
<circle cx="57.0" cy="128.2" r="4.2" fill="#b4da66"/>
<circle cx="50.5" cy="128.1" r="4.8" fill="#8ec94b"/>
<circle cx="57.2" cy="127.9" r="5.5" fill="#b4da66"/>
<circle cx="48.4" cy="127.7" r="5.5" fill="#8ec94b"/>
<circle cx="45.8" cy="127.6" r="5.5" fill="#b4da66"/>
<circle cx="56.5" cy="127.5" r="5.3" fill="#b4da66"/>
<circle cx="51.7" cy="126.9" r="4.8" fill="#b4da66"/>
<circle cx="63.2" cy="126.5" r="4.9" fill="#b4da66"/>
<circle cx="62.2" cy="126.2" r="4.6" fill="#8ec94b"/>
<circle cx="65.7" cy="125.5" r="4.6" fill="#b4da66"/>
<circle cx="58.0" cy="125.2" r="5.3" fill="#b4da66"/>
<clipPath id="cc"><ellipse cx="133" cy="115.2" rx="21.2" ry="12.0"/>
<circle cx="126.7" cy="123.9" r="5.2"/>
<circle cx="128.7" cy="123.7" r="5.4"/>
<circle cx="121.3" cy="118.4" r="3.5"/>
<circle cx="120.8" cy="118.2" r="3.4"/>
<circle cx="145.8" cy="117.9" r="4.0"/>
<circle cx="123.1" cy="117.8" r="3.9"/>
<circle cx="150.5" cy="116.6" r="4.8"/>
<circle cx="133.7" cy="116.3" r="4.5"/>
<circle cx="145.2" cy="115.3" r="4.0"/>
<circle cx="117.5" cy="114.9" r="3.8"/>
<circle cx="131.2" cy="114.4" r="5.6"/>
<circle cx="122.8" cy="114.4" r="5.4"/>
<circle cx="120.8" cy="114.4" r="4.4"/>
<circle cx="121.1" cy="113.3" r="4.8"/>
<circle cx="131.7" cy="113.2" r="4.7"/>
<circle cx="150.3" cy="112.6" r="4.7"/>
<circle cx="148.5" cy="112.3" r="5.7"/>
<circle cx="139.1" cy="112.0" r="3.9"/>
<circle cx="124.3" cy="111.7" r="3.4"/>
<circle cx="131.6" cy="111.6" r="5.4"/>
<circle cx="136.9" cy="111.2" r="3.5"/>
<circle cx="143.0" cy="110.7" r="5.4"/>
<circle cx="122.1" cy="110.5" r="5.4"/>
<circle cx="136.8" cy="110.0" r="4.4"/>
<circle cx="144.4" cy="108.4" r="5.5"/>
<circle cx="126.5" cy="108.2" r="3.4"/>
<circle cx="122.8" cy="108.1" r="3.4"/>
<circle cx="137.3" cy="107.9" r="5.6"/>
<circle cx="122.2" cy="107.6" r="5.7"/>
<circle cx="143.5" cy="107.6" r="3.4"/>
<circle cx="122.2" cy="107.3" r="5.2"/>
<circle cx="118.6" cy="107.1" r="3.5"/>
<circle cx="123.6" cy="105.7" r="5.1"/>
<circle cx="146.8" cy="105.6" r="3.6"/>
<circle cx="138.4" cy="104.0" r="4.3"/>
<circle cx="138.4" cy="103.6" r="5.8"/>
<circle cx="125.6" cy="103.4" r="5.3"/>
<circle cx="129.1" cy="103.0" r="4.8"/>
<circle cx="134.1" cy="102.7" r="3.7"/>
<circle cx="140.3" cy="102.3" r="5.8"/>
<ellipse cx="146" cy="127.7" rx="11.0" ry="8.8"/>
<circle cx="145.9" cy="132.6" r="3.5"/>
<circle cx="149.6" cy="132.1" r="5.8"/>
<circle cx="145.4" cy="131.8" r="4.6"/>
<circle cx="142.3" cy="131.6" r="4.0"/>
<circle cx="149.7" cy="129.8" r="3.9"/>
<circle cx="143.2" cy="127.2" r="5.6"/>
<circle cx="144.1" cy="126.0" r="3.7"/>
<circle cx="155.7" cy="125.8" r="5.7"/>
<circle cx="148.9" cy="124.4" r="5.4"/>
<circle cx="154.8" cy="123.5" r="3.8"/>
<circle cx="140.9" cy="123.2" r="5.0"/>
<circle cx="141.7" cy="121.9" r="3.8"/>
<circle cx="146.2" cy="121.4" r="4.4"/>
<circle cx="151.9" cy="121.3" r="5.6"/>
<circle cx="150.6" cy="120.1" r="5.8"/>
<circle cx="144.4" cy="118.8" r="4.7"/>
<ellipse cx="81" cy="118.0" rx="16.1" ry="10.8"/>
<circle cx="80.5" cy="125.6" r="3.6"/>
<circle cx="88.1" cy="124.7" r="3.2"/>
<circle cx="78.3" cy="123.2" r="3.2"/>
<circle cx="75.9" cy="122.1" r="5.4"/>
<circle cx="74.3" cy="121.7" r="4.1"/>
<circle cx="71.8" cy="120.1" r="3.3"/>
<circle cx="68.8" cy="119.9" r="4.1"/>
<circle cx="86.5" cy="119.7" r="3.5"/>
<circle cx="80.3" cy="119.3" r="4.9"/>
<circle cx="67.8" cy="118.5" r="5.8"/>
<circle cx="86.5" cy="118.1" r="4.7"/>
<circle cx="95.3" cy="116.1" r="3.3"/>
<circle cx="89.9" cy="116.0" r="3.3"/>
<circle cx="83.8" cy="115.5" r="4.2"/>
<circle cx="74.7" cy="115.5" r="5.7"/>
<circle cx="68.1" cy="115.1" r="3.7"/>
<circle cx="90.3" cy="114.5" r="4.5"/>
<circle cx="73.0" cy="114.5" r="4.2"/>
<circle cx="90.1" cy="113.9" r="4.3"/>
<circle cx="93.2" cy="113.1" r="3.7"/>
<circle cx="73.4" cy="113.1" r="4.5"/>
<circle cx="85.7" cy="113.0" r="4.1"/>
<circle cx="74.6" cy="112.7" r="4.9"/>
<circle cx="77.4" cy="111.2" r="5.3"/>
<circle cx="85.0" cy="110.3" r="4.6"/>
<circle cx="84.5" cy="108.9" r="5.0"/>
<circle cx="85.6" cy="108.5" r="4.3"/>
<circle cx="78.8" cy="108.3" r="4.0"/>
<circle cx="88.8" cy="107.6" r="4.6"/>
<circle cx="81.3" cy="107.4" r="5.8"/>
<ellipse cx="110" cy="132.9" rx="18.9" ry="10.0"/>
<circle cx="98.0" cy="137.0" r="5.4"/>
<circle cx="120.4" cy="137.0" r="5.3"/>
<circle cx="109.6" cy="136.0" r="4.7"/>
<circle cx="105.8" cy="135.2" r="3.6"/>
<circle cx="101.9" cy="134.6" r="5.0"/>
<circle cx="97.7" cy="134.4" r="4.4"/>
<circle cx="95.5" cy="133.8" r="4.6"/>
<circle cx="100.3" cy="133.3" r="4.7"/>
<circle cx="125.8" cy="133.0" r="5.1"/>
<circle cx="116.4" cy="132.1" r="5.1"/>
<circle cx="97.6" cy="131.6" r="3.8"/>
<circle cx="104.4" cy="130.9" r="5.7"/>
<circle cx="95.8" cy="130.4" r="4.2"/>
<circle cx="101.7" cy="130.2" r="4.8"/>
<circle cx="103.1" cy="129.7" r="5.4"/>
<circle cx="125.3" cy="128.8" r="5.1"/>
<circle cx="107.6" cy="128.4" r="4.3"/>
<circle cx="113.1" cy="128.3" r="5.1"/>
<circle cx="104.7" cy="127.0" r="3.6"/>
<circle cx="103.3" cy="126.5" r="4.8"/>
<circle cx="119.9" cy="126.3" r="5.4"/>
<circle cx="101.1" cy="125.8" r="3.7"/>
<circle cx="98.1" cy="125.6" r="5.1"/>
<circle cx="120.2" cy="125.2" r="5.4"/>
<circle cx="99.1" cy="125.2" r="4.6"/>
<circle cx="121.7" cy="124.9" r="3.8"/>
<circle cx="114.7" cy="124.4" r="4.3"/>
<circle cx="106.5" cy="123.8" r="4.5"/>
<circle cx="103.7" cy="123.5" r="5.3"/>
<circle cx="116.2" cy="123.4" r="3.8"/>
<circle cx="104.7" cy="123.1" r="3.2"/>
<circle cx="105.5" cy="122.7" r="4.9"/>
<circle cx="111.5" cy="122.0" r="4.3"/>
<circle cx="113.6" cy="121.5" r="3.9"/>
<ellipse cx="58" cy="134.9" rx="17.9" ry="10.0"/>
<circle cx="54.9" cy="142.6" r="4.3"/>
<circle cx="54.3" cy="142.0" r="4.6"/>
<circle cx="60.2" cy="141.6" r="3.9"/>
<circle cx="61.4" cy="140.3" r="5.0"/>
<circle cx="58.3" cy="139.7" r="4.2"/>
<circle cx="46.6" cy="137.0" r="4.7"/>
<circle cx="45.4" cy="137.0" r="4.9"/>
<circle cx="65.5" cy="136.1" r="4.0"/>
<circle cx="56.0" cy="134.9" r="3.4"/>
<circle cx="45.6" cy="134.7" r="4.8"/>
<circle cx="73.4" cy="134.7" r="3.9"/>
<circle cx="53.8" cy="134.2" r="4.7"/>
<circle cx="70.0" cy="133.3" r="3.7"/>
<circle cx="45.0" cy="132.6" r="5.0"/>
<circle cx="59.1" cy="132.1" r="4.5"/>
<circle cx="72.2" cy="131.5" r="4.1"/>
<circle cx="63.9" cy="131.0" r="5.2"/>
<circle cx="71.9" cy="130.2" r="3.9"/>
<circle cx="45.9" cy="129.8" r="3.4"/>
<circle cx="71.3" cy="128.9" r="5.2"/>
<circle cx="44.9" cy="128.7" r="3.3"/>
<circle cx="72.1" cy="128.5" r="3.9"/>
<circle cx="53.5" cy="128.3" r="5.3"/>
<circle cx="57.0" cy="128.2" r="4.2"/>
<circle cx="50.5" cy="128.1" r="4.8"/>
<circle cx="57.2" cy="127.9" r="5.5"/>
<circle cx="48.4" cy="127.7" r="5.5"/>
<circle cx="45.8" cy="127.6" r="5.5"/>
<circle cx="56.5" cy="127.5" r="5.3"/>
<circle cx="51.7" cy="126.9" r="4.8"/>
<circle cx="63.2" cy="126.5" r="4.9"/>
<circle cx="62.2" cy="126.2" r="4.6"/>
<circle cx="65.7" cy="125.5" r="4.6"/>
<circle cx="58.0" cy="125.2" r="5.3"/></clipPath>
<g clip-path="url(#cc)" stroke="#e6f6f0" stroke-width="1.3" stroke-linecap="round" opacity="0.35">
<line x1="57.6" y1="87.4" x2="52.4" y2="105.2" stroke-opacity="0.62"/>
<line x1="50.5" y1="111.8" x2="44.9" y2="131.1" stroke-opacity="0.48"/>
<line x1="44.0" y1="134.2" x2="41.8" y2="142.0" stroke-opacity="0.57"/>
<line x1="63.7" y1="88.8" x2="57.0" y2="111.9" stroke-opacity="0.66"/>
<line x1="55.0" y1="118.7" x2="51.9" y2="129.4" stroke-opacity="0.74"/>
<line x1="49.5" y1="137.6" x2="48.3" y2="142.0" stroke-opacity="0.78"/>
<line x1="67.8" y1="90.5" x2="62.4" y2="109.2" stroke-opacity="0.59"/>
<line x1="61.5" y1="112.4" x2="54.6" y2="136.0" stroke-opacity="0.66"/>
<line x1="74.1" y1="90.3" x2="67.0" y2="114.9" stroke-opacity="0.63"/>
<line x1="64.7" y1="122.7" x2="60.1" y2="138.7" stroke-opacity="0.87"/>
<line x1="79.8" y1="86.8" x2="76.4" y2="98.7" stroke-opacity="0.88"/>
<line x1="74.8" y1="104.3" x2="69.2" y2="123.6" stroke-opacity="0.59"/>
<line x1="67.4" y1="129.7" x2="63.8" y2="142.0" stroke-opacity="0.61"/>
<line x1="84.2" y1="91.4" x2="78.3" y2="111.7" stroke-opacity="0.87"/>
<line x1="75.9" y1="119.8" x2="69.5" y2="142.0" stroke-opacity="0.75"/>
<line x1="90.3" y1="91.8" x2="83.2" y2="116.1" stroke-opacity="0.71"/>
<line x1="81.1" y1="123.4" x2="77.7" y2="135.2" stroke-opacity="0.82"/>
<line x1="96.9" y1="86.4" x2="90.1" y2="109.8" stroke-opacity="0.90"/>
<line x1="89.1" y1="113.3" x2="82.6" y2="135.7" stroke-opacity="0.63"/>
<line x1="81.5" y1="139.6" x2="80.8" y2="142.0" stroke-opacity="0.80"/>
<line x1="100.6" y1="89.7" x2="98.0" y2="98.5" stroke-opacity="0.77"/>
<line x1="96.6" y1="103.5" x2="89.6" y2="127.3" stroke-opacity="0.89"/>
<line x1="87.9" y1="133.4" x2="85.4" y2="142.0" stroke-opacity="0.59"/>
<line x1="107.3" y1="86.2" x2="103.9" y2="97.7" stroke-opacity="0.63"/>
<line x1="102.0" y1="104.4" x2="98.8" y2="115.2" stroke-opacity="0.47"/>
<line x1="96.5" y1="123.4" x2="92.5" y2="137.1" stroke-opacity="0.88"/>
<line x1="111.8" y1="88.8" x2="106.7" y2="106.1" stroke-opacity="0.74"/>
<line x1="104.8" y1="112.7" x2="99.6" y2="130.8" stroke-opacity="0.73"/>
<line x1="97.1" y1="139.4" x2="96.3" y2="142.0" stroke-opacity="0.64"/>
<line x1="117.0" y1="87.8" x2="109.6" y2="113.4" stroke-opacity="0.68"/>
<line x1="107.8" y1="119.7" x2="105.4" y2="127.9" stroke-opacity="0.64"/>
<line x1="103.5" y1="134.4" x2="101.3" y2="142.0" stroke-opacity="0.73"/>
<line x1="121.1" y1="89.8" x2="116.3" y2="106.2" stroke-opacity="0.76"/>
<line x1="114.8" y1="111.3" x2="108.8" y2="132.0" stroke-opacity="0.78"/>
<line x1="107.9" y1="135.1" x2="105.9" y2="142.0" stroke-opacity="0.75"/>
<line x1="126.4" y1="88.7" x2="121.0" y2="107.4" stroke-opacity="0.59"/>
<line x1="119.5" y1="112.6" x2="115.5" y2="126.2" stroke-opacity="0.62"/>
<line x1="113.6" y1="132.8" x2="110.9" y2="142.0" stroke-opacity="0.62"/>
<line x1="130.7" y1="89.4" x2="124.6" y2="110.6" stroke-opacity="0.59"/>
<line x1="123.3" y1="115.0" x2="116.8" y2="137.5" stroke-opacity="0.56"/>
<line x1="135.9" y1="90.2" x2="133.0" y2="100.0" stroke-opacity="0.59"/>
<line x1="131.6" y1="105.0" x2="124.9" y2="128.0" stroke-opacity="0.65"/>
<line x1="122.6" y1="136.2" x2="120.9" y2="142.0" stroke-opacity="0.60"/>
<line x1="142.6" y1="88.7" x2="139.1" y2="100.8" stroke-opacity="0.50"/>
<line x1="137.3" y1="106.9" x2="134.0" y2="118.4" stroke-opacity="0.81"/>
<line x1="131.7" y1="126.4" x2="128.4" y2="137.7" stroke-opacity="0.58"/>
<line x1="147.7" y1="90.8" x2="143.6" y2="105.1" stroke-opacity="0.51"/>
<line x1="142.2" y1="109.8" x2="135.8" y2="132.1" stroke-opacity="0.57"/>
<line x1="134.3" y1="137.2" x2="132.9" y2="142.0" stroke-opacity="0.64"/>
<line x1="155.2" y1="86.9" x2="152.9" y2="95.0" stroke-opacity="0.87"/>
<line x1="150.5" y1="103.3" x2="143.0" y2="129.1" stroke-opacity="0.65"/>
<line x1="140.5" y1="137.8" x2="139.3" y2="142.0" stroke-opacity="0.55"/>
<line x1="160.5" y1="90.0" x2="155.5" y2="107.3" stroke-opacity="0.58"/>
<line x1="154.0" y1="112.4" x2="150.5" y2="124.5" stroke-opacity="0.48"/>
<line x1="148.6" y1="131.0" x2="145.4" y2="142.0" stroke-opacity="0.81"/>
<line x1="166.8" y1="90.2" x2="159.6" y2="114.8" stroke-opacity="0.85"/>
<line x1="157.2" y1="123.2" x2="151.9" y2="141.6" stroke-opacity="0.46"/>
<line x1="172.3" y1="87.8" x2="166.5" y2="107.7" stroke-opacity="0.69"/>
<line x1="164.9" y1="113.2" x2="157.7" y2="138.1" stroke-opacity="0.73"/>
<line x1="176.3" y1="91.2" x2="171.5" y2="107.8" stroke-opacity="0.80"/>
<line x1="170.0" y1="112.9" x2="166.7" y2="124.4" stroke-opacity="0.69"/>
<line x1="164.4" y1="132.3" x2="161.6" y2="142.0" stroke-opacity="0.81"/>
<line x1="182.5" y1="90.9" x2="180.1" y2="99.1" stroke-opacity="0.73"/>
<line x1="177.8" y1="107.3" x2="175.2" y2="116.2" stroke-opacity="0.57"/>
<line x1="173.9" y1="120.8" x2="168.8" y2="138.3" stroke-opacity="0.64"/>
<line x1="190.0" y1="86.0" x2="187.4" y2="95.0" stroke-opacity="0.51"/>
<line x1="186.3" y1="98.7" x2="183.6" y2="108.0" stroke-opacity="0.89"/>
<line x1="181.3" y1="116.1" x2="178.5" y2="125.7" stroke-opacity="0.68"/>
<line x1="177.1" y1="130.5" x2="173.7" y2="142.0" stroke-opacity="0.61"/>
<line x1="195.0" y1="88.2" x2="191.7" y2="99.6" stroke-opacity="0.60"/>
<line x1="190.6" y1="103.3" x2="185.4" y2="121.3" stroke-opacity="0.77"/>
<line x1="183.9" y1="126.6" x2="181.1" y2="136.1" stroke-opacity="0.53"/>
<line x1="200.0" y1="90.7" x2="195.7" y2="105.5" stroke-opacity="0.81"/>
<line x1="193.7" y1="112.3" x2="189.2" y2="128.0" stroke-opacity="0.62"/>
<line x1="187.4" y1="134.0" x2="185.1" y2="142.0" stroke-opacity="0.64"/>
<line x1="206.4" y1="87.5" x2="201.2" y2="105.1" stroke-opacity="0.76"/>
<line x1="200.3" y1="108.5" x2="195.7" y2="124.2" stroke-opacity="0.64"/>
<line x1="193.3" y1="132.5" x2="190.6" y2="142.0" stroke-opacity="0.62"/>
<line x1="212.4" y1="87.6" x2="207.7" y2="103.9" stroke-opacity="0.51"/>
<line x1="205.4" y1="111.8" x2="199.6" y2="131.7" stroke-opacity="0.85"/>
<line x1="197.4" y1="139.5" x2="196.6" y2="142.0" stroke-opacity="0.78"/>
<line x1="216.6" y1="89.5" x2="214.2" y2="97.6" stroke-opacity="0.51"/>
<line x1="212.0" y1="105.3" x2="209.4" y2="114.1" stroke-opacity="0.49"/>
<line x1="208.4" y1="117.7" x2="201.5" y2="141.5" stroke-opacity="0.53"/>
<line x1="223.6" y1="86.7" x2="216.8" y2="109.9" stroke-opacity="0.75"/>
<line x1="214.5" y1="117.9" x2="207.5" y2="142.0" stroke-opacity="0.71"/>
<line x1="227.0" y1="90.6" x2="222.0" y2="107.8" stroke-opacity="0.77"/>
<line x1="221.0" y1="111.4" x2="214.7" y2="132.9" stroke-opacity="0.87"/>
<line x1="213.7" y1="136.3" x2="212.1" y2="142.0" stroke-opacity="0.70"/>
<line x1="233.0" y1="87.1" x2="229.4" y2="99.6" stroke-opacity="0.73"/>
<line x1="227.2" y1="107.1" x2="222.8" y2="122.2" stroke-opacity="0.62"/>
<line x1="221.3" y1="127.6" x2="217.1" y2="141.9" stroke-opacity="0.64"/>
<line x1="237.1" y1="91.8" x2="232.7" y2="107.3" stroke-opacity="0.79"/>
<line x1="231.5" y1="111.2" x2="225.6" y2="131.7" stroke-opacity="0.79"/>
<line x1="223.5" y1="138.7" x2="222.6" y2="142.0" stroke-opacity="0.67"/>
<line x1="244.9" y1="86.9" x2="242.0" y2="96.6" stroke-opacity="0.79"/>
<line x1="239.6" y1="105.1" x2="234.5" y2="122.4" stroke-opacity="0.65"/>
<line x1="232.4" y1="129.7" x2="229.1" y2="141.1" stroke-opacity="0.57"/>
<line x1="250.2" y1="87.9" x2="246.7" y2="100.1" stroke-opacity="0.76"/>
<line x1="244.2" y1="108.8" x2="240.3" y2="122.1" stroke-opacity="0.77"/>
<line x1="238.7" y1="127.6" x2="234.5" y2="142.0" stroke-opacity="0.71"/>
<line x1="255.7" y1="86.1" x2="250.9" y2="102.8" stroke-opacity="0.62"/>
<line x1="249.7" y1="106.8" x2="245.5" y2="121.3" stroke-opacity="0.59"/>
<line x1="243.3" y1="128.9" x2="240.2" y2="139.5" stroke-opacity="0.90"/>
<line x1="260.6" y1="88.8" x2="253.9" y2="111.8" stroke-opacity="0.82"/>
<line x1="252.1" y1="118.2" x2="247.3" y2="134.8" stroke-opacity="0.77"/>
<line x1="265.4" y1="90.4" x2="258.1" y2="115.7" stroke-opacity="0.66"/>
<line x1="256.8" y1="120.1" x2="253.3" y2="132.3" stroke-opacity="0.77"/>
<line x1="251.2" y1="139.3" x2="250.5" y2="142.0" stroke-opacity="0.83"/>
<line x1="271.1" y1="87.6" x2="267.9" y2="98.9" stroke-opacity="0.77"/>
<line x1="265.5" y1="107.1" x2="258.5" y2="131.3" stroke-opacity="0.56"/>
<line x1="256.1" y1="139.5" x2="255.4" y2="142.0" stroke-opacity="0.64"/>
<line x1="276.1" y1="86.6" x2="269.4" y2="109.6" stroke-opacity="0.58"/>
<line x1="267.9" y1="114.7" x2="262.6" y2="133.2" stroke-opacity="0.75"/>
<line x1="261.7" y1="136.2" x2="260.0" y2="142.0" stroke-opacity="0.65"/>
<line x1="280.2" y1="89.5" x2="272.9" y2="114.7" stroke-opacity="0.63"/>
<line x1="271.0" y1="121.0" x2="268.1" y2="131.1" stroke-opacity="0.57"/>
<line x1="266.1" y1="138.1" x2="264.9" y2="142.0" stroke-opacity="0.85"/>
</g>
<!-- bushes -->
<ellipse cx="52" cy="181" rx="6" ry="3" fill="#3a8a3a"/><ellipse cx="50.8" cy="179.9" rx="3.3" ry="1.4" fill="#4fa24a"/>
<ellipse cx="78" cy="180" rx="7" ry="3.5" fill="#3a8a3a"/><ellipse cx="76.6" cy="178.8" rx="3.9" ry="1.6" fill="#4fa24a"/>
<path d="M54.3,182 Q53.1,179.5 50.5,177.0 Q54.1,179.5 58.8,182 Z" fill="#357f36"/>
<path d="M55.6,182 Q55.1,178.0 53.4,173.9 Q56.1,178.0 59.8,182 Z" fill="#40953f"/>
<path d="M56.5,182 Q55.9,178.7 53.9,175.3 Q56.9,178.7 61.2,182 Z" fill="#2c7632"/>
<path d="M58.3,182 Q57.6,178.0 56.1,174.0 Q58.6,178.0 61.7,182 Z" fill="#2c7632"/>
<path d="M59.1,182 Q60.1,177.2 60.0,172.3 Q61.1,177.2 63.2,182 Z" fill="#40953f"/>
<path d="M60.2,182 Q61.5,177.4 61.7,172.8 Q62.5,177.4 64.3,182 Z" fill="#357f36"/>
<path d="M61.2,182 Q62.7,176.7 63.0,171.3 Q63.7,176.7 65.7,182 Z" fill="#357f36"/>
<path d="M62.9,182 Q63.4,176.6 63.1,171.3 Q64.4,176.6 66.3,182 Z" fill="#2c7632"/>
<path d="M63.8,182 Q66.0,177.2 67.2,172.4 Q67.0,177.2 67.7,182 Z" fill="#357f36"/>
<path d="M64.8,182 Q67.1,177.2 68.3,172.5 Q68.1,177.2 68.9,182 Z" fill="#2c7632"/>
<path d="M65.7,182 Q68.4,178.2 69.8,174.5 Q69.4,178.2 70.3,182 Z" fill="#40953f"/>
<path d="M67.0,182 Q71.2,178.3 74.3,174.7 Q72.2,178.3 71.3,182 Z" fill="#40953f"/>
<path d="M68.1,182 Q71.5,178.4 73.8,174.9 Q72.5,178.4 72.4,182 Z" fill="#357f36"/>
<path d="M68.9,182 Q73.4,178.6 76.4,175.1 Q74.4,178.6 73.9,182 Z" fill="#357f36"/>
<ellipse cx="92" cy="179.5" rx="6" ry="5" fill="#3a8a3a"/><ellipse cx="90.8" cy="177.8" rx="3.3" ry="2.2" fill="#4fa24a"/>
<path d="M102.5,182 Q102.0,179.5 101.0,177.0 Q103.0,179.5 105.7,182 Z" fill="#357f36"/>
<path d="M103.1,182 Q102.7,179.7 101.1,177.5 Q103.7,179.7 107.6,182 Z" fill="#357f36"/>
<path d="M104.7,182 Q104.8,179.0 104.0,176.1 Q105.8,179.0 108.4,182 Z" fill="#2c7632"/>
<path d="M105.2,182 Q105.4,178.3 104.0,174.7 Q106.4,178.3 110.3,182 Z" fill="#40953f"/>
<path d="M106.5,182 Q107.7,178.0 107.4,174.0 Q108.7,178.0 111.4,182 Z" fill="#40953f"/>
<path d="M108.3,182 Q109.6,177.5 110.0,173.0 Q110.6,177.5 112.1,182 Z" fill="#2c7632"/>
<path d="M109.3,182 Q110.2,178.1 109.9,174.2 Q111.2,178.1 113.5,182 Z" fill="#40953f"/>
<path d="M110.4,182 Q113.0,176.8 114.4,171.5 Q114.0,176.8 114.8,182 Z" fill="#40953f"/>
<path d="M112.0,182 Q113.7,177.9 114.7,173.8 Q114.7,177.9 115.6,182 Z" fill="#357f36"/>
<path d="M112.5,182 Q115.5,177.5 117.0,173.0 Q116.5,177.5 117.6,182 Z" fill="#40953f"/>
<path d="M114.4,182 Q117.2,178.6 119.1,175.3 Q118.2,178.6 118.1,182 Z" fill="#40953f"/>
<path d="M115.3,182 Q118.2,179.1 119.9,176.1 Q119.2,179.1 119.6,182 Z" fill="#2c7632"/>
<path d="M116.8,182 Q120.0,179.3 122.3,176.6 Q121.0,179.3 120.6,182 Z" fill="#357f36"/>
<path d="M118.1,182 Q121.9,179.0 124.9,176.1 Q122.9,179.0 121.7,182 Z" fill="#40953f"/>
<ellipse cx="104" cy="181" rx="4" ry="2.5" fill="#3a8a3a"/><ellipse cx="103.2" cy="180.1" rx="2.2" ry="1.1" fill="#4fa24a"/>
<ellipse cx="150" cy="179.5" rx="6.5" ry="4" fill="#3a8a3a"/><ellipse cx="148.7" cy="178.1" rx="3.6" ry="1.8" fill="#4fa24a"/>
<ellipse cx="121" cy="181" rx="4" ry="2.5" fill="#3a8a3a"/><ellipse cx="120.2" cy="180.1" rx="2.2" ry="1.1" fill="#4fa24a"/>
<ellipse cx="140" cy="181.5" rx="4" ry="1.8" fill="#3a8a3a"/><ellipse cx="139.2" cy="180.9" rx="2.2" ry="0.8" fill="#4fa24a"/>
<!-- brown ground -->
<path d="M483.4,176.5 L483.0,182.0 L485.0,188.0 L487.0,198.8 L491.1,202.9 L493.9,201.5 L495.3,207.0 L498.7,212.5 L500.8,216.6 L503.5,213.9 L506.3,215.3 L509.0,218.0 L513.2,219.4 L517.3,220.8 L519.5,223.3 L521.4,222.2 L526.1,219.2 L528.8,215.0 L537.1,217.8 L539.8,221.9 L538.4,227.4 L542.6,228.8 L548.1,224.7 L549.5,217.8 L555.0,213.7 L561.8,210.9 L563.4,208.7 L567.5,203.2 L575.8,204.6 L588.2,200.5 L593.7,197.7 L599.1,189.2 L602.3,184.4 L607.1,181.2 L613.5,177.9 L616.7,174.7 L607.1,170.7 L600.7,168.3 L599.9,163.5 L597.5,159.5 L592.6,157.9 L591.0,154.0 L588.6,154.0 L587.8,158.7 L578.0,157.0 L570.0,156.0 L563.0,158.0 L556.0,157.0 L548.0,158.0 L540.0,156.0 L533.0,157.0 L525.0,155.0 L518.0,157.0 L510.0,158.0 L503.0,156.0 L495.0,158.0 L487.0,163.0 L483.0,168.0 Z" fill="#5e4b3f"/>
<path d="M484,166 C486,160 492,157 500,157 C503,154 510,153 516,155 C522,156 527,154 532,156 C537,153 543,154 546,157 C550,157 555,158 560,160 L560,168 L484,168 Z" fill="#594639"/>
<path d="M578,159 C582,156 587,156 589,157 L589,153 L591,153 L591,157 C595,157 598,158 600,162 L600,168 L578,168 Z" fill="#594639"/>
<path d="M497,178 C500,172 510,170 525,171 C540,172 555,170 568,172 C574,173 576,176 577,178 Z" fill="#887c70" opacity="0.9"/>
<!-- background dead trees -->
<g fill="#877a69">
<path d="M510.8,178.0 L510.3,164.9 L508.8,151.8 L506.5,141.6 L503.1,132.6 L498.8,123.7 L495.6,116.8 L494.4,117.2 L497.2,124.3 L500.9,133.4 L503.5,142.4 L505.2,152.2 L505.7,165.1 L505.2,178.0 Z"/>
<path d="M506.0,142.7 L511.8,134.4 L514.6,126.2 L515.4,118.0 L514.6,118.0 L513.4,125.8 L510.2,133.6 L504.0,141.3 Z"/>
<path d="M501.8,132.2 L497.1,133.4 L492.1,131.7 L491.9,132.3 L496.9,134.6 L502.2,133.8 Z"/>
<path d="M546.8,178.0 L546.3,165.0 L545.4,151.8 L543.5,141.7 L540.1,131.6 L535.8,123.6 L532.6,116.8 L531.4,117.2 L534.2,124.4 L537.9,132.4 L540.5,142.3 L541.6,152.2 L541.7,165.0 L541.2,178.0 Z"/>
<path d="M543.0,142.7 L548.8,133.4 L551.6,125.2 L552.4,118.1 L551.6,117.9 L550.4,124.8 L547.2,132.6 L541.0,141.3 Z"/>
<path d="M539.5,132.5 L544.3,127.3 L547.2,123.2 L546.8,122.8 L543.7,126.7 L538.5,131.5 Z"/>
<path d="M563.8,178.0 L563.3,165.0 L562.4,151.9 L561.5,141.7 L558.1,132.6 L553.8,123.7 L551.6,115.9 L550.4,116.1 L552.2,124.3 L555.9,133.4 L558.5,142.3 L558.6,152.1 L558.7,165.0 L558.2,178.0 Z"/>
<path d="M561.0,142.6 L565.8,133.3 L567.6,125.1 L568.4,118.1 L567.6,117.9 L566.4,124.9 L564.2,132.7 L559.0,141.4 Z"/>
<path d="M557.5,133.5 L562.2,128.2 L561.8,127.8 L556.5,132.5 Z"/>
</g>
<path d="M508.0,170.2 L505.0,167.3 M506.4,148.8 L504.1,147.3 M503.8,138.4 L500.5,136.8 M500.5,129.5 L501.5,126.9 M495.0,117.0 L491.6,114.9 M495.0,117.0 L495.5,113.9 M512.6,129.6 L515.2,128.5 M515.0,118.0 L513.9,115.8 M515.0,118.0 L517.5,114.9 M500.1,133.4 L497.8,137.0 M492.0,132.0 L489.1,132.7 M492.0,132.0 L489.5,128.7 M544.0,170.6 L541.9,168.6 M542.5,145.1 L544.3,142.7 M540.9,138.3 L538.2,136.9 M536.5,127.0 L533.0,125.9 M532.0,117.0 L528.9,115.0 M532.0,117.0 L532.4,114.4 M544.5,138.2 L547.4,137.7 M549.1,130.0 L553.2,128.3 M552.0,118.0 L550.9,115.7 M552.0,118.0 L554.4,115.1 M547.0,123.0 L547.1,120.5 M547.0,123.0 L550.6,121.6 M561.0,171.1 L558.6,168.7 M560.2,145.2 L557.1,142.5 M551.0,116.0 L548.7,114.0 M551.0,116.0 L551.9,113.0 M563.1,136.5 L562.0,133.0 M568.0,118.0 L566.6,115.2 M568.0,118.0 L569.9,115.7 M562.0,128.0 L562.6,124.8 M562.0,128.0 L566.0,127.0" stroke="#a09382" stroke-width="0.9" fill="none" stroke-linecap="round"/>
<!-- main dead trees -->
<path d="M517.6,127.6 L514.8,126.6 M514.6,120.2 L516.3,116.5 M512.5,114.1 L514.3,111.3 M510.5,106.0 L507.7,103.5 M510.5,106.0 L511.3,103.6 M512.5,122.2 L509.0,123.4 M505.0,118.0 L502.3,118.2 M505.0,118.0 L503.6,115.3 M514.7,112.6 L513.2,108.5 M517.0,105.0 L515.8,102.1 M517.0,105.0 L518.9,102.9 M524.0,127.2 L521.6,124.0 M523.0,106.0 L520.6,103.5 M523.0,106.0 L524.2,103.1 M529.8,126.8 L534.2,126.3 M536.0,120.0 L536.0,117.1 M547.0,106.0 L546.2,102.1 M547.0,106.0 L549.2,104.4 M533.2,119.3 L536.2,117.5 M533.0,110.0 L530.2,107.1 M533.0,110.0 L534.1,107.4 M542.8,118.0 L545.7,121.0 M550.0,116.0 L551.9,113.2 M550.0,116.0 L553.5,116.6 M517.1,134.6 L516.6,131.3 M507.8,129.2 L506.9,126.7 M498.0,126.0 L494.6,127.3 M498.0,126.0 L496.1,124.1 M501.0,123.0 L498.4,122.0 M501.0,123.0 L500.9,119.1 M563.0,117.7 L559.1,118.5 M554.0,111.0 L550.4,110.7 M554.0,111.0 L553.0,108.2 M563.4,115.7 L559.1,114.4 M561.0,108.0 L558.4,105.5 M561.0,108.0 L562.3,104.4 M575.0,115.4 L577.5,113.0 M576.0,105.0 L574.3,101.3 M576.0,105.0 L578.6,102.0 M579.3,121.9 L582.2,120.2 M584.0,106.0 L582.8,103.5 M584.0,106.0 L585.8,103.9 M582.6,127.0 L582.4,124.3 M591.9,117.1 L591.8,112.6 M596.8,113.6 L600.6,114.9 M605.0,110.0 L606.7,107.4 M605.0,110.0 L609.1,110.7 M599.0,106.0 L599.5,103.3 M599.0,106.0 L602.7,105.1 M593.1,124.9 L596.1,125.4 M604.0,117.0 L605.1,113.9 M604.0,117.0 L607.4,116.8" stroke="#6e4a2c" stroke-width="1" fill="none" stroke-linecap="round"/>
<g fill="#513520">
<path d="M522.1,133.3 L517.2,123.5 L513.9,115.7 L512.2,109.8 L511.0,105.9 L510.0,106.1 L510.8,110.2 L512.1,116.3 L514.8,124.5 L518.9,134.7 Z"/>
<path d="M516.4,123.2 L510.3,120.5 L505.2,117.7 L504.8,118.3 L509.7,121.5 L515.6,124.8 Z"/>
<path d="M513.7,116.4 L516.5,110.2 L517.3,105.1 L516.7,104.9 L515.5,109.8 L512.3,115.6 Z"/>
<path d="M525.1,130.3 L526.2,121.0 L524.8,111.9 L523.5,105.9 L522.5,106.1 L523.2,112.1 L523.8,121.0 L521.9,129.7 Z"/>
<path d="M528.0,132.2 L533.1,125.0 L538.8,118.9 L544.7,113.5 L547.5,106.2 L546.5,105.8 L543.3,112.5 L537.2,117.1 L530.9,123.0 L525.0,129.8 Z"/>
<path d="M532.9,124.2 L534.6,116.0 L533.3,109.9 L532.7,110.1 L533.4,116.0 L531.1,123.8 Z"/>
<path d="M538.0,118.8 L545.1,118.5 L550.1,116.3 L549.9,115.7 L544.9,117.5 L538.0,117.2 Z"/>
<path d="M521.4,135.7 L512.6,130.0 L504.2,126.8 L498.1,125.6 L497.9,126.4 L503.8,128.2 L511.4,132.0 L519.6,138.3 Z"/>
<path d="M504.5,127.1 L501.2,122.8 L500.8,123.2 L503.5,127.9 Z"/>
<path d="M576.4,131.1 L571.0,123.2 L565.6,118.2 L559.4,114.4 L554.3,110.6 L553.7,111.4 L558.6,115.6 L564.4,119.8 L569.0,124.8 L573.6,132.9 Z"/>
<path d="M565.7,118.6 L562.5,112.8 L561.3,107.9 L560.7,108.1 L561.5,113.2 L564.3,119.4 Z"/>
<path d="M577.5,128.9 L576.1,118.9 L575.7,111.1 L576.4,105.1 L575.6,104.9 L574.3,110.9 L573.9,119.1 L574.5,129.1 Z"/>
<path d="M579.4,128.3 L581.0,119.3 L583.7,112.2 L584.4,106.1 L583.6,105.9 L582.3,111.8 L579.0,118.7 L576.6,127.7 Z"/>
<path d="M581.3,131.1 L587.9,122.9 L594.6,115.7 L600.3,112.6 L605.2,110.4 L604.8,109.6 L599.7,111.4 L593.4,114.3 L586.1,121.1 L578.7,128.9 Z"/>
<path d="M594.7,115.2 L596.4,109.2 L599.2,106.2 L598.8,105.8 L595.6,108.8 L593.3,114.8 Z"/>
<path d="M582.0,136.1 L589.7,128.9 L597.4,122.6 L604.2,117.3 L603.8,116.7 L596.6,121.4 L588.3,127.1 L580.0,133.9 Z"/>
</g>
<g fill="#a87640" opacity="0.7">
<path d="M520.7,133.7 L515.9,123.8 L512.8,115.9 L511.1,110.0 L510.9,110.0 L512.2,116.1 L515.1,124.2 L519.3,134.3 Z"/>
<path d="M523.6,130.1 L524.9,121.0 L523.6,112.0 L523.4,112.0 L524.1,121.0 L522.4,129.9 Z"/>
<path d="M526.6,131.5 L531.9,124.4 L537.7,118.2 L543.6,113.1 L543.4,112.9 L537.3,117.8 L531.1,123.6 L525.4,130.5 Z"/>
<path d="M520.4,136.5 L511.7,130.7 L503.6,127.4 L503.4,127.6 L511.3,131.3 L519.6,137.5 Z"/>
<path d="M575.1,131.6 L569.9,123.7 L564.7,118.8 L558.6,114.9 L558.4,115.1 L564.3,119.2 L569.1,124.3 L573.9,132.4 Z"/>
<path d="M576.1,128.9 L574.8,119.0 L574.6,111.0 L574.4,111.0 L574.2,119.0 L574.9,129.1 Z"/>
<path d="M578.0,128.1 L579.8,119.1 L582.6,112.1 L582.4,111.9 L579.2,118.9 L577.0,127.9 Z"/>
<path d="M580.0,130.4 L586.8,122.3 L593.7,115.2 L599.6,112.1 L599.4,111.9 L593.3,114.8 L586.2,121.7 L579.0,129.6 Z"/>
<path d="M580.9,135.5 L588.7,128.3 L596.6,122.1 L596.4,121.9 L588.3,127.7 L580.1,134.5 Z"/>
</g>
<path d="M511,179 L516,176 L518.5,170 L519.5,160 L519,150 L519.5,140 L521,133 L522.5,129 L526,127.5 L528,133 L529.5,142 L529,152 L529.5,162 L531,170 L535,175.5 L541,179 Z" fill="#3a281b"/>
<path d="M511,179 L516,176 L518.5,170 L519.5,160 L519,150 L519.5,140 L521,133 L522.5,129 L525,128 L525,136 L524,146 L524.5,158 L526,168 L528.5,175 L531,179 Z" fill="#a26f38"/>
<path d="M520.5,162 L521.5,150 L521.5,140 L523,132" stroke="#cf9d5e" stroke-width="1.2" fill="none"/>
<path d="M566,179 L570,175 L572,168 L572.5,158 L572,148 L573,138 L574.5,131 L577,127 L580,129 L582,136 L582.5,146 L581.5,158 L582,168 L585,175 L590,179 Z" fill="#3a281b"/>
<path d="M566,179 L570,175 L572,168 L572.5,158 L572,148 L573,138 L574.5,131 L577,127 L578,130 L577.5,140 L577,152 L577.5,165 L579,174 L580,179 Z" fill="#9c6a35"/>
<!-- arrow outline -->
<path d="M174.5,228.3 L441.3,228.3 L441.3,205.6 L506,280.5 L441.3,355.4 L441.3,333 L174.5,333 Z" fill="none" stroke="#555" stroke-width="1.5"/>
<!-- small arrows -->
<g stroke-width="1.5">
<g stroke="#d2602a" fill="#e0581c">
<line x1="206" y1="204.5" x2="206" y2="223"/><path d="M200.2,220.3 L206,223.3 L211.8,220.3 L206,233.6 Z" stroke="none"/>
<line x1="313" y1="204.5" x2="313" y2="223"/><path d="M307.2,220.3 L313,223.3 L318.8,220.3 L313,233.6 Z" stroke="none"/>
<line x1="420.3" y1="204.5" x2="420.3" y2="223"/><path d="M414.5,220.3 L420.3,223.3 L426.1,220.3 L420.3,233.6 Z" stroke="none"/>
</g>
<g stroke="#1d8244" fill="#1d8244">
<line x1="155.6" y1="280.8" x2="174" y2="280.8"/><path d="M171,275 L173.5,280.8 L171,286.6 L184,280.8 Z" stroke="none"/>
</g>
<g stroke="#722070" fill="#82237f">
<line x1="206" y1="336" x2="206" y2="355.5"/><path d="M200,339.5 L206,336.8 L212,339.5 L206,326.6 Z" stroke="none"/>
<line x1="312.5" y1="336" x2="312.5" y2="355.5"/><path d="M306.5,339.5 L312.5,336.8 L318.5,339.5 L312.5,326.6 Z" stroke="none"/>
<line x1="419.5" y1="336" x2="419.5" y2="355.5"/><path d="M413.5,339.5 L419.5,336.8 L425.5,339.5 L419.5,326.6 Z" stroke="none"/>
</g>
</g>
</svg>
<div class="t lab o" style="left:105.88px;top:174.50px;width:200px;">大西洋子午面循環</div>
<div class="t lab o" style="left:105.78px;top:188.20px;width:200px;">の弱化</div>
<div class="t lab o" style="left:213.17px;top:174.50px;width:200px;">エルニーニョ型</div>
<div class="t lab o" style="left:213.17px;top:188.20px;width:200px;">昇温</div>
<div class="t lab o" style="left:320.27px;top:174.50px;width:200px;">水循環の</div>
<div class="t lab o" style="left:320.07px;top:188.20px;width:200px;">弱化</div>
<div class="t lab g" style="left:9.18px;top:265.00px;width:200px;">耕作地と牧草地</div>
<div class="t lab g" style="left:10.18px;top:279.20px;width:200px;">の拡大</div>
<div class="t lab p" style="left:106.28px;top:359.00px;width:200px;">光合成の低下</div>
<div class="t lab p" style="left:213.17px;top:358.50px;width:200px;">栄養塩供給</div>
<div class="t lab p" style="left:213.97px;top:372.80px;width:200px;">の低下</div>
<div class="t lab p" style="left:319.17px;top:358.50px;width:200px;">干ばつや火災による</div>
<div class="t lab p" style="left:319.07px;top:372.80px;width:200px;">樹木の枯死</div>
<div class="t mid o" style="left:276.00px;top:246.60px;">気候変動</div>
<div class="t mid g" style="left:276.00px;top:272.00px;">土地利用変化</div>
<div class="t mid p" style="left:276.00px;top:295.80px;">生態系の変化</div>
<div class="t title" style="left:464.00px;top:52.20px;">アマゾン熱帯雨林の枯死</div>
<div class="t title" style="left:464.00px;top:73.00px;">21 世紀から始まる可能性</div>
</body></html>
